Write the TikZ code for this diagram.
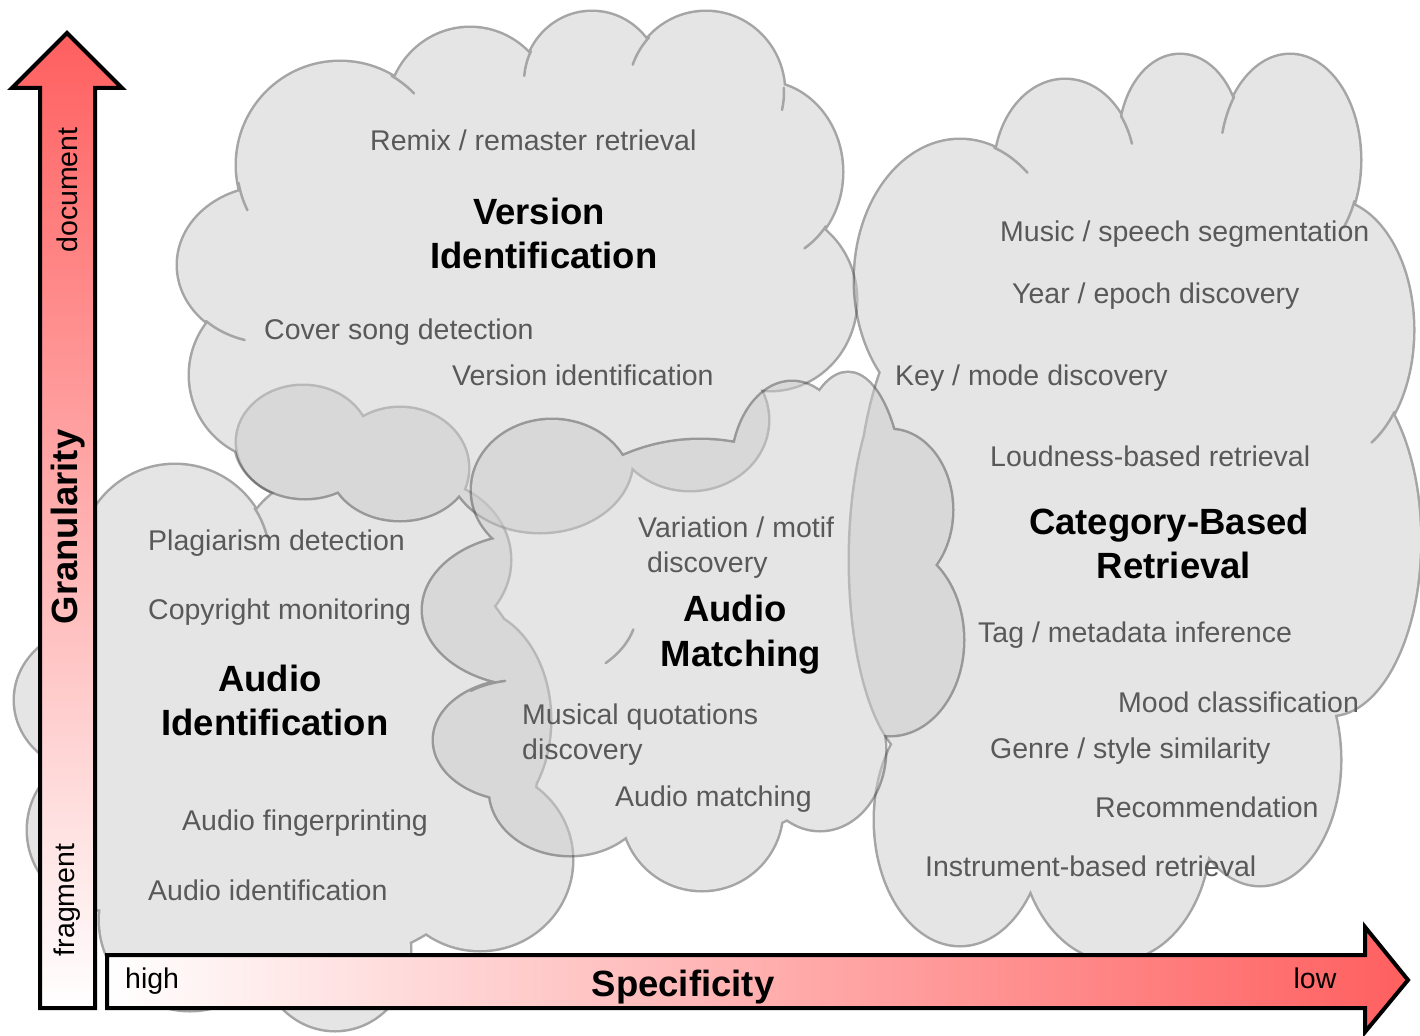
\documentclass[tikz,border=0pt]{standalone}
\usepackage{fontspec}
\setmainfont{Liberation Sans}
\definecolor{cloudfill}{gray}{0.8}
\definecolor{cloudline}{gray}{0.3}
\definecolor{txtgray}{RGB}{89,89,89}
\definecolor{arrowred}{RGB}{255,95,95}
\tikzset{
  lobeline/.style={draw=cloudline, line width=5pt},
  lobefill/.style={fill=cloudfill},
  hookline/.style={draw=cloudline, line width=2.5pt, line cap=round},
  item/.style={text=txtgray, font=\fontsize{28.5}{35}\selectfont, inner sep=0pt, anchor=base west},
  title/.style={text=black, font=\bfseries\fontsize{36.5}{44}\selectfont, inner sep=0pt, anchor=base},
  axislabel/.style={text=black, font=\fontsize{28.5}{35}\selectfont, inner sep=0pt},
  axisarrow/.style={draw=black, line width=4pt, line join=miter},
}
% #1: lobes cx/cy/rx/ry ; #2: inner hooks cx/cy/rx/ry/start/end
\newcommand\drawcloud[2]{%
  \begin{scope}[transparency group, opacity=0.5]
    \path[lobeline] \foreach \cx/\cy/\rx/\ry in {#1} {(\cx,\cy) ellipse [x radius=\rx, y radius=\ry]};
    \path[lobefill] \foreach \cx/\cy/\rx/\ry in {#1} {(\cx,\cy) ellipse [x radius=\rx, y radius=\ry]};
    \path[hookline] \foreach \cx/\cy/\rx/\ry/\ta/\tb in {#2}
      {({\cx+\rx*cos(\ta)},{\cy+\ry*sin(\ta)}) arc[start angle=\ta, end angle=\tb, x radius=\rx, y radius=\ry]};
  \end{scope}}
\begin{document}
\begin{tikzpicture}[x=1pt, y=-1pt]
\useasboundingbox (0,0) rectangle (1420,1035);
\fill[white] (0,0) rectangle (1420,1035);
% Audio Identification cloud
\drawcloud{290/740/250/230, 175/560/95/95, 330/560/90/85, 95/700/80/72, 110/830/82/80, 190/920/90/90, 335/950/75/80, 480/860/92/90, 470/720/80/110, 420/560/90/80, 400/468/68/60, 303/442/66/56}
  {175/560/95/95/-33/-14}
% Version Identification cloud
\drawcloud{520/260/300/170, 340/165/103/103, 470/112/82/84, 592/82/68/70, 706/92/78/80, 762/172/80/90, 770/300/86/90, 690/420/78/70, 540/460/92/72, 400/465/70/55, 305/440/70/58, 275/375/85/85, 270/265/92/78, 420/410/120/55}
  {340/165/103/103/-60/-44, 592/82/68/70/-154/-175, 706/92/78/80/-137/-160, 706/92/78/80/-3/13, 762/172/80/90/37/58, 340/165/103/103/170/154, 270/265/92/78/134/106}
% Category-Based Retrieval cloud
\drawcloud{1130/500/270/330, 960/280/105/140, 1065/170/70/90, 1180/140/60/85, 1290/160/70/105, 1330/330/83/130, 1330/540/90/175, 1260/760/80/125, 1115/830/95/130, 960/820/85/125, 920/560/70/200}
  {960/280/105/140/-71/-50, 1065/170/70/90/-37/-17, 1290/160/70/105/-143/-165, 1290/160/70/105/23/40, 1330/330/83/130/39/60}
% Audio Matching cloud
\drawcloud{700/640/195/200, 552/490/80/70, 530/610/107/75, 520/740/86/60, 570/790/80/65, 702/810/80/80, 820/750/65/80, 848/505/55/132, 890/510/62/80, 890/640/73/95, 792/470/60/88}
  {530/610/107/75/15/45, 520/740/86/60/-125/-100}
% Axes
\shadedraw[axisarrow, top color=arrowred, bottom color=white]
  (40,1008) -- (40,88) -- (12,88) -- (67,33) -- (122,88) -- (95,88) -- (95,1008) -- cycle;
\shadedraw[axisarrow, left color=white, right color=arrowred]
  (107,955) -- (1365,955) -- (1365,927) -- (1408,980) -- (1365,1032) -- (1365,1008) -- (107,1008) -- cycle;
\node[axislabel, rotate=90] (doc) at (67,190) {document};
\node[axislabel, rotate=90, font=\bfseries\fontsize{36.5}{44}\selectfont] (gran) at (68,527) {Granularity};
\node[axislabel, rotate=90] (frag) at (67,900) {fragment};
\node[axislabel, anchor=base west] (high) at (125,988) {high};
\node[axislabel, anchor=base, font=\bfseries\fontsize{36.5}{44}\selectfont] (spec) at (683,996) {Specificity};
\node[axislabel, anchor=base] (low) at (1315,988) {low};
% Titles
\node[title] (vi1) at (539,224) {Version};
\node[title] (vi2) at (544,268) {Identification};
\node[title] (ai1) at (270,691) {Audio};
\node[title] (ai2) at (275,735) {Identification};
\node[title] (am1) at (735,621) {Audio};
\node[title] (am2) at (741,666) {Matching};
\node[title] (cb1) at (1169,534) {Category-Based};
\node[title] (cb2) at (1174,578) {Retrieval};
% Items
\node[item] (remix) at (370,151) {Remix / remaster retrieval};
\node[item] (cover) at (264,339) {Cover song detection};
\node[item] (verid) at (452,385) {Version identification};
\node[item] (plag) at (148,550) {Plagiarism detection};
\node[item] (copy) at (148,619) {Copyright monitoring};
\node[item] (finger) at (182,830) {Audio fingerprinting};
\node[item] (audid) at (148,900) {Audio identification};
\node[item] (var1) at (638,537) {Variation / motif};
\node[item] (var2) at (647,572) {discovery};
\node[item] (mq1) at (522,724) {Musical quotations};
\node[item] (mq2) at (522,759) {discovery};
\node[item] (audm) at (615,806) {Audio matching};
\node[item] (music) at (1000,241) {Music / speech segmentation};
\node[item] (year) at (1012,303) {Year / epoch discovery};
\node[item] (key) at (895,385) {Key / mode discovery};
\node[item] (loud) at (990,466) {Loudness-based retrieval};
\node[item] (tag) at (978,642) {Tag / metadata inference};
\node[item] (mood) at (1118,712) {Mood classification};
\node[item] (genre) at (990,758) {Genre / style similarity};
\node[item] (rec) at (1095,817) {Recommendation};
\node[item] (instr) at (925,876) {Instrument-based retrieval};
\end{tikzpicture}
\end{document}
